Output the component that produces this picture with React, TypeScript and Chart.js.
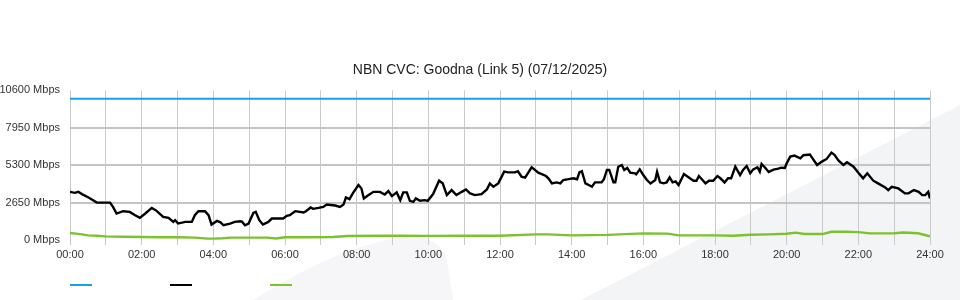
import { useEffect, useRef } from 'react';
import { Chart, registerables } from 'chart.js';

Chart.register(...registerables);

const TITLE = 'NBN CVC: Goodna (Link 5) (07/12/2025)';
const Y_TICKS = [0, 2650, 5300, 7950, 10600];
const X_LABEL_HOURS = [0, 2, 4, 6, 8, 10, 12, 14, 16, 18, 20, 22, 24];

// capacity line
const capacityTimes = [0, 1440];
const capacityValues = [10000, 10000];

// black (download) series: minutes since midnight, Mbps
const blackTimes = [
  0, 8, 14, 20, 31, 45, 67, 72, 78, 89, 100, 109, 117, 126, 137, 145, 156, 165, 173, 176,
  181, 193, 204, 209, 215, 226, 232, 237, 246, 252, 257, 268, 276, 285, 288, 293, 299, 307, 311, 317,
  323, 332, 338, 357, 363, 368, 377, 391, 395, 403, 407, 416, 424, 430, 444, 452, 458, 462, 468, 474,
  483, 488, 492, 500, 508, 519, 527, 533, 539, 547, 553, 558, 564, 569, 575, 579, 586, 594, 599, 608,
  618, 624, 631, 639, 647, 656, 663, 670, 678, 689, 698, 703, 709, 717, 727, 734, 745, 750, 756, 762,
  773, 776, 784, 790, 797, 801, 807, 815, 821, 826, 835, 843, 849, 853, 857, 863, 871, 874, 879, 890,
  894, 899, 903, 910, 913, 918, 924, 928, 933, 938, 946, 948, 954, 960, 966, 972, 980, 983, 988, 994,
  999, 1004, 1009, 1014, 1019, 1028, 1038, 1044, 1049, 1053, 1058, 1064, 1070, 1077, 1084, 1089, 1096, 1102, 1107, 1114,
  1122, 1127, 1133, 1139, 1144, 1151, 1155, 1158, 1164, 1170, 1178, 1186, 1191, 1197, 1200, 1206, 1213, 1223, 1228, 1239,
  1243, 1251, 1259, 1267, 1275, 1280, 1287, 1295, 1301, 1312, 1320, 1328, 1335, 1345, 1353, 1365, 1370, 1376, 1387, 1398,
  1404, 1413, 1421, 1427, 1432, 1437, 1440,
];
const blackValues = [
  3410, 3340, 3410, 3250, 3010, 2660, 2650, 2350, 1875, 2040, 1990, 1755, 1565, 1875, 2275, 2065, 1635, 1565, 1280, 1400,
  1165, 1280, 1280, 1755, 2040, 2040, 1755, 1090, 1350, 1250, 1045, 1165, 1280, 1330, 1300, 1045, 1165, 1920, 1990, 1400,
  1090, 1280, 1520, 1520, 1710, 1755, 2040, 1945, 2040, 2300, 2205, 2275, 2345, 2510, 2440, 2345, 2510, 3010, 2895, 3340,
  3890, 3650, 2945, 3180, 3410, 3410, 3225, 3460, 3110, 3370, 2825, 3370, 3370, 2775, 2700, 2945, 2775, 2825, 2775, 3250,
  4200, 4010, 3180, 3535, 3180, 3410, 3580, 3300, 3180, 3250, 3580, 4010, 3770, 4010, 4840, 4790, 4790, 4870, 4480, 4420,
  5150, 5050, 4765, 4670, 4530, 4370, 4010, 4080, 4010, 4245, 4315, 4370, 4300, 4790, 4870, 4010, 3840, 3770, 4080, 4080,
  4300, 4960, 4960, 4080, 4080, 5190, 5310, 4960, 5100, 4765, 4720, 4650, 5005, 4600, 4245, 4010, 4245, 4820, 4080, 4010,
  4080, 4435, 4080, 4150, 3890, 4670, 4370, 4200, 4200, 4530, 4300, 4010, 4200, 4200, 4530, 4370, 4080, 4370, 4370, 5190,
  4600, 4960, 5240, 4720, 5000, 5150, 4840, 5385, 5120, 4820, 4980, 5050, 5120, 5100, 5430, 5905, 5975, 5780, 6000, 6045,
  5800, 5310, 5550, 5740, 6190, 6025, 5620, 5310, 5500, 5190, 4765, 4365, 4720, 4200, 4010, 3720, 3535, 3770, 3650, 3300,
  3300, 3535, 3410, 3180, 3180, 3410, 2945,
];

// green (upload) series
const greenTimes = [
  0, 10, 20, 30, 45, 60, 90, 120, 150, 180, 210, 230, 240, 255, 270, 300, 330, 345, 360, 400,
  440, 465, 520, 560, 600, 660, 720, 780, 800, 840, 900, 960, 1000, 1020, 1080, 1110, 1140, 1170, 1200, 1215,
  1230, 1260, 1275, 1300, 1320, 1340, 1380, 1395, 1420, 1440,
];
const greenValues = [
  500, 450, 400, 330, 300, 260, 230, 215, 200, 190, 170, 100, 100, 120, 170, 170, 170, 110, 190, 200,
  210, 285, 300, 300, 290, 300, 300, 400, 400, 330, 360, 470, 450, 330, 330, 300, 370, 400, 440, 520,
  430, 420, 580, 580, 560, 470, 480, 530, 480, 260,
];

const COLORS = { capacity: '#1a9fe0', down: '#000000', up: '#7cc22c' };
const FONT = "'Liberation Sans', Arial, sans-serif";

const toPoints = (ts: number[], vs: number[]) => ts.map((t, i) => ({ x: t, y: vs[i] }));
const hhmm = (m: number) => {
  const h = Math.floor(m / 60);
  return `${String(h).padStart(2, '0')}:00`;
};

const watermark = {
  id: 'watermark',
  beforeDraw(chart: any) {
    const { ctx, width, height } = chart;
    ctx.save();
    ctx.fillStyle = '#f3f4f6';
    ctx.beginPath();
    ctx.moveTo(width * 0.605, height);
    ctx.lineTo(width, height * 0.35);
    ctx.lineTo(width, height);
    ctx.closePath();
    ctx.fill();
    ctx.fillStyle = '#f6f6f8';
    ctx.beginPath();
    ctx.moveTo(253, height);
    ctx.quadraticCurveTo(340, 245, 405, 237);
    ctx.quadraticCurveTo(440, 235, 447, 260);
    ctx.lineTo(453, height);
    ctx.closePath();
    ctx.fill();
    ctx.restore();
  },
};

const swatches = {
  id: 'swatches',
  afterDraw(chart: any) {
    const { ctx, chartArea, height } = chart;
    ctx.save();
    chart.data.datasets.forEach((ds: any, i: number) => {
      const x = chartArea.left + i * 100;
      ctx.strokeStyle = ds.borderColor;
      ctx.lineWidth = 2;
      ctx.beginPath();
      ctx.moveTo(x, height - 15);
      ctx.lineTo(x + 22, height - 15);
      ctx.stroke();
    });
    ctx.restore();
  },
};

export default function App() {
  const ref = useRef<HTMLCanvasElement>(null);
  useEffect(() => {
    if (!ref.current) return;
    const chart = new Chart(ref.current, {
      type: 'line',
      data: {
        datasets: [
          { label: 'Capacity', data: toPoints(capacityTimes, capacityValues), borderColor: COLORS.capacity, borderWidth: 2, pointRadius: 0, tension: 0 },
          { label: 'Download', data: toPoints(blackTimes, blackValues), borderColor: COLORS.down, borderWidth: 2.4, pointRadius: 0, tension: 0 },
          { label: 'Upload', data: toPoints(greenTimes, greenValues), borderColor: COLORS.up, borderWidth: 2.4, pointRadius: 0, tension: 0 },
        ],
      },
      options: {
        responsive: false,
        animation: false,
        events: [],
        layout: { padding: { left: 0, right: 0, top: 0, bottom: 34 } },
        plugins: {
          legend: { display: false },
          tooltip: { enabled: false },
          title: {
            display: true,
            text: TITLE,
            color: '#222',
            font: { family: FONT, size: 14, weight: 'normal' },
            padding: { top: 62, bottom: 11.5 },
          },
        },
        scales: {
          x: {
            type: 'linear',
            min: 0,
            max: 1440,
            border: { display: false },
            grid: { color: '#cacaca', lineWidth: 1, tickLength: 5, drawTicks: true },
            afterBuildTicks: (scale: any) => {
              const t = [];
              for (let m = 0; m <= 1440; m += 60) t.push({ value: m });
              scale.ticks = t;
            },
            ticks: {
              autoSkip: false,
              maxRotation: 0,
              padding: 3,
              color: '#333',
              font: { family: FONT, size: 11 },
              callback: (v: any) => (X_LABEL_HOURS.includes(v / 60) ? hhmm(v) : ''),
            },
            afterFit: (scale: any) => { scale.height = 26; },
          },
          y: {
            min: 0,
            max: 10600,
            border: { display: false },
            afterBuildTicks: (scale: any) => { scale.ticks = Y_TICKS.map((v) => ({ value: v })); },
            grid: {
              drawTicks: false,
              lineWidth: 2,
              color: (c: any) => (c.tick && (c.tick.value === 0 || c.tick.value === 10600) ? 'rgba(0,0,0,0)' : '#c4c4c4'),
            },
            ticks: {
              padding: 10,
              color: '#333',
              font: { family: FONT, size: 11 },
              callback: (v: any) => `${v} Mbps`,
            },
            afterFit: (scale: any) => { scale.width = 70; },
          },
          yRight: {
            position: 'right',
            display: true,
            min: 0,
            max: 10600,
            border: { display: false },
            grid: { display: false, drawTicks: false },
            ticks: { display: false },
            afterFit: (scale: any) => { scale.width = 30; },
          },
        },
      },
      plugins: [watermark, swatches],
    } as any);
    return () => chart.destroy();
  }, []);
  return (
    <div style={{ position: 'absolute', left: 0, top: 0, width: 960, height: 300 }}>
      <canvas ref={ref} width={960} height={300} style={{ display: 'block' }} />
    </div>
  );
}
